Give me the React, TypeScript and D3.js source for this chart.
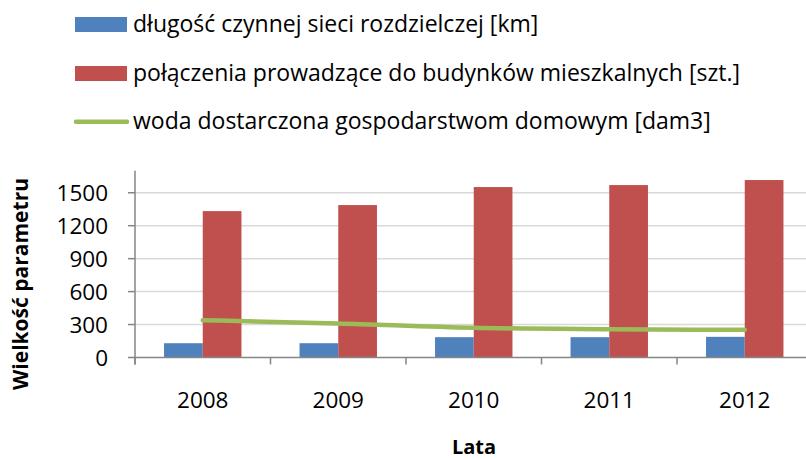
import React from "react";
import * as d3 from "d3";

const years = ["2008", "2009", "2010", "2011", "2012"];
const siecKm = [130, 130, 185, 185, 188];
const polaczenia = [1333, 1388, 1552, 1570, 1616];
const woda = [340, 310, 270, 258, 252];
const yTicks = [0, 300, 600, 900, 1200, 1500];
const legendLabels = [
  "długość czynnej sieci rozdzielczej [km]",
  "połączenia prowadzące do budynków mieszkalnych [szt.]",
  "woda dostarczona gospodarstwom domowym [dam3]",
];

const W = 806;
const H = 460;
const FONT = "'Open Sans', Lato, sans-serif";
const BLUE = "#4F81BD";
const RED = "#C0504D";
const GREEN = "#9BBB59";

export default function App() {
  const left = 135;
  const right = 812.5;
  const top = 170.8;
  const bottom = 357.5;

  const x = d3.scaleBand<string>().domain(years).range([left, right]).paddingInner(0).paddingOuter(0);
  const bw = x.bandwidth();
  const barW = bw / 3.5;
  const y = d3.scaleLinear().domain([0, 1700]).range([bottom, top]);

  const line = d3
    .line<number>()
    .x((_, i) => (x(years[i]) as number) + bw / 2)
    .y((d) => y(d))
    .curve(d3.curveMonotoneX);

  const boundaries = years.map((yr) => x(yr) as number).concat([right]);

  return (
    <svg width={W} height={H} style={{ position: "absolute", left: 0, top: 0, background: "#fff" }}>
      {/* legend */}
      <g fontFamily={FONT} fontSize={23} fill="#000">
        <rect x={75} y={17} width={52} height={15} fill={BLUE} />
        <text x={133} y={32}>{legendLabels[0]}</text>
        <rect x={75} y={66} width={52} height={15} fill={RED} />
        <text x={133} y={80.5}>{legendLabels[1]}</text>
        <line x1={76} x2={127} y1={121.7} y2={121.7} stroke={GREEN} strokeWidth={4.5} strokeLinecap="round" />
        <text x={133} y={128.5}>{legendLabels[2]}</text>
      </g>

      {/* gridlines */}
      {yTicks.slice(1).map((t) => (
        <line key={t} x1={left} x2={W} y1={y(t)} y2={y(t)} stroke="#D9D9D9" strokeWidth={1.5} />
      ))}

      {/* bars */}
      {years.map((yr, i) => {
        const cx = (x(yr) as number) + bw / 2;
        return (
          <g key={yr}>
            <rect x={cx - barW} y={y(siecKm[i])} width={barW} height={bottom - y(siecKm[i])} fill={BLUE} />
            <rect x={cx} y={y(polaczenia[i])} width={barW} height={bottom - y(polaczenia[i])} fill={RED} />
          </g>
        );
      })}

      {/* line */}
      <path d={line(woda) || ""} fill="none" stroke={GREEN} strokeWidth={4.5} strokeLinecap="round" strokeLinejoin="round" />

      {/* axes */}
      <line x1={left} x2={left} y1={top} y2={bottom + 7} stroke="#868686" strokeWidth={1.5} />
      <line x1={left - 1} x2={W} y1={bottom} y2={bottom} stroke="#868686" strokeWidth={1.5} />
      {yTicks.map((t) => (
        <line key={"yt" + t} x1={left - 7} x2={left} y1={y(t)} y2={y(t)} stroke="#868686" strokeWidth={1.5} />
      ))}
      {boundaries.map((b, i) => (
        <line key={"xt" + i} x1={b} x2={b} y1={bottom} y2={bottom + 7} stroke="#868686" strokeWidth={1.5} />
      ))}

      {/* tick labels */}
      <g fontFamily={FONT} fontSize={22.5} fill="#000">
        {yTicks.map((t) => (
          <text key={"yl" + t} x={108} y={y(t)} textAnchor="end" dominantBaseline="central">
            {t}
          </text>
        ))}
        {years.map((yr) => (
          <text key={"xl" + yr} x={(x(yr) as number) + bw / 2} y={408} textAnchor="middle">
            {yr}
          </text>
        ))}
      </g>

      {/* axis titles */}
      <text
        x={474}
        y={454}
        textAnchor="middle"
        fontFamily={FONT}
        fontWeight="bold"
        fontSize={20}
      >
        Lata
      </text>
      <text
        transform={`translate(28, 284) rotate(-90)`}
        textAnchor="middle"
        fontFamily={FONT}
        fontWeight="bold"
        fontSize={21}
      >
        Wielkość parametru
      </text>
    </svg>
  );
}
